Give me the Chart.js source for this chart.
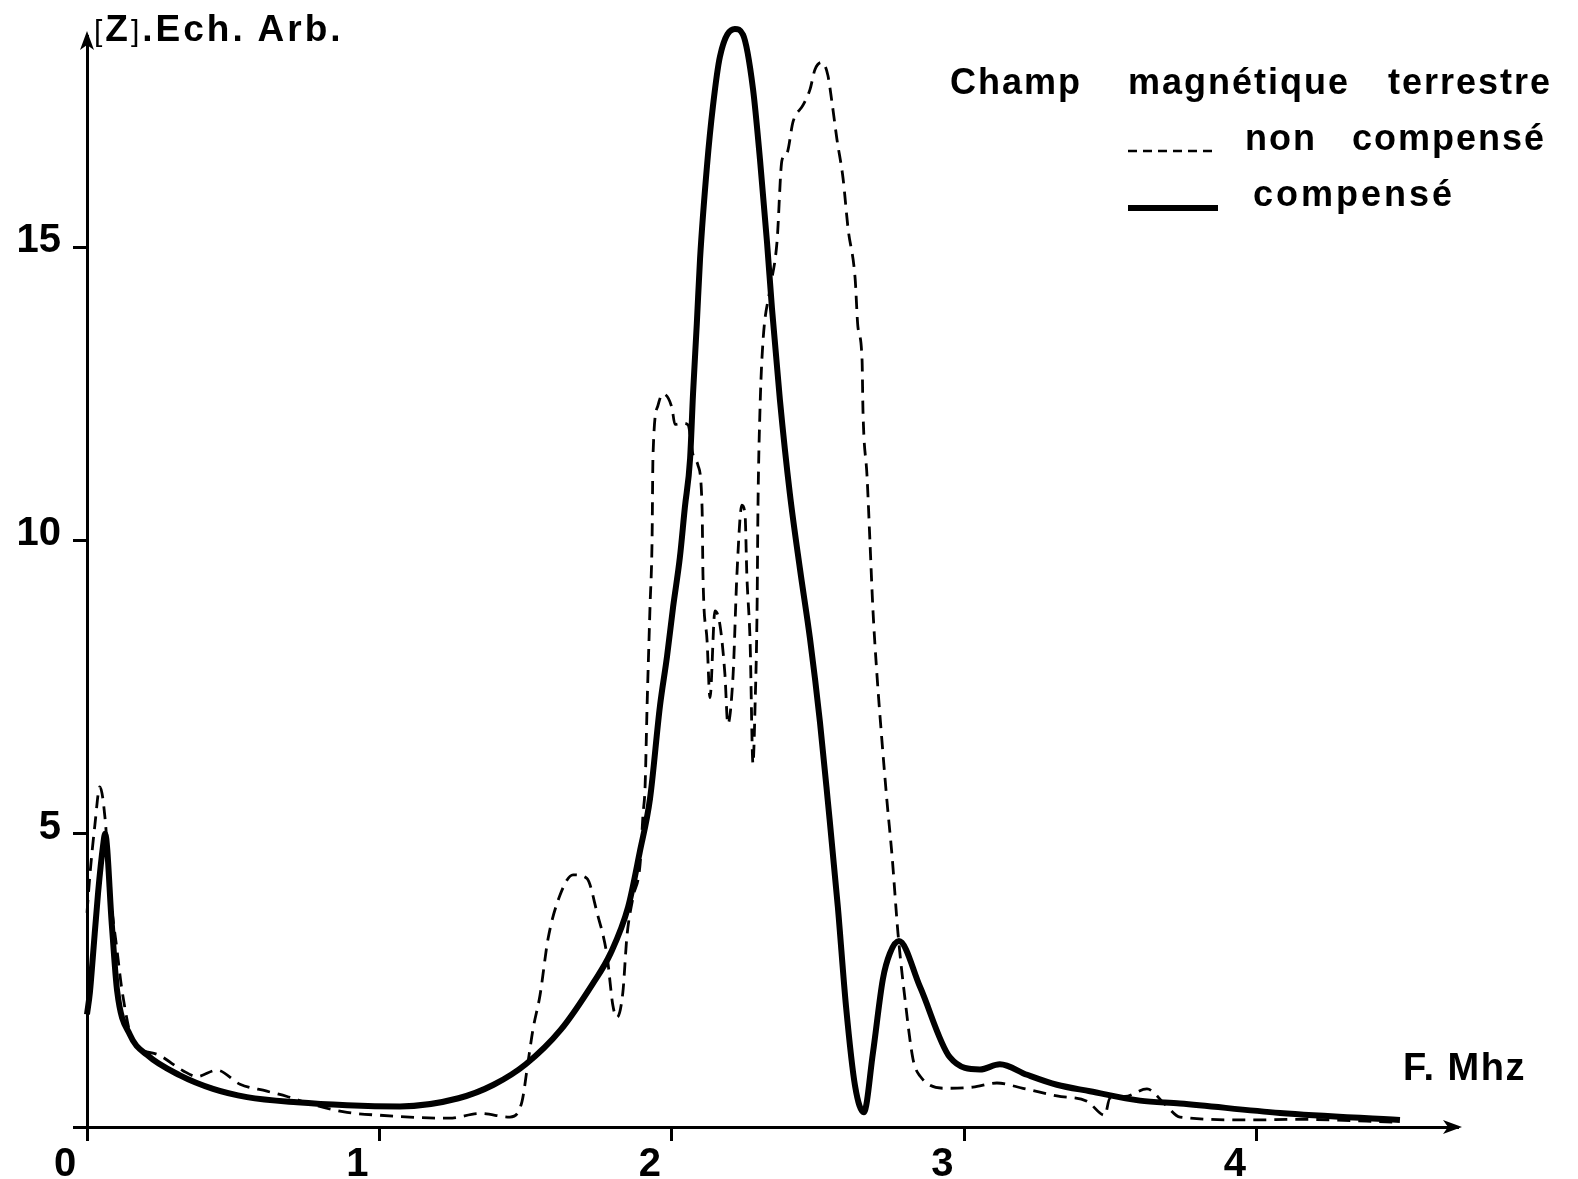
<!DOCTYPE html>
<html>
<head>
<meta charset="utf-8">
<title>Champ magnétique terrestre</title>
<script src="https://cdn.jsdelivr.net/npm/chart.js@4.4.1/dist/chart.umd.min.js"></script>
<style>
    body { margin: 0; background: #fff; }
    #wrap { position: relative; width: 1578px; height: 1179px; }
    .txt {
        position: absolute;
        font-family: 'Liberation Sans', Arial, sans-serif;
        font-weight: bold;
        color: #000;
        line-height: 1;
        white-space: nowrap;
    }
    .thin { font-weight: normal; font-size: 30px; }
</style>
</head>
<body>
<div id="wrap">
    <canvas id="chart" width="1578" height="1179"></canvas>
    <div class="txt" style="left:94px; top:10px; font-size:37px; letter-spacing:3px;"><span class="thin">[</span>Z<span class="thin">]</span>.Ech. Arb.</div>
    <div class="txt" style="left:1403px; top:1048px; font-size:38px; letter-spacing:1.5px;">F. Mhz</div>
    <div class="txt" style="left:950px; top:64px; font-size:36px; letter-spacing:2px;">Champ</div>
    <div class="txt" style="left:1128px; top:64px; font-size:36px; letter-spacing:2px;">magnétique</div>
    <div class="txt" style="left:1388px; top:64px; font-size:36px; letter-spacing:2px;">terrestre</div>
    <div class="txt" style="left:1245px; top:120px; font-size:36px; letter-spacing:2px;">non</div>
    <div class="txt" style="left:1352px; top:120px; font-size:36px; letter-spacing:2px;">compensé</div>
    <div class="txt" style="left:1253px; top:176px; font-size:36px; letter-spacing:3px;">compensé</div>
</div>
<script>
// Axis ticks
const xTickValues = [0, 1, 2, 3, 4];
const yTickValues = [0, 5, 10, 15];

// Champ compensé (trait plein)
const compFreq = [0.000, 0.010, 0.020, 0.038, 0.055, 0.062, 0.085, 0.103, 0.147, 0.205,
    0.318, 0.431, 0.547, 0.718, 0.889, 1.070, 1.270, 1.390, 1.500, 1.620,
    1.730, 1.790, 1.850, 1.890, 1.925, 1.959, 1.983, 2.004, 2.027, 2.044,
    2.062, 2.072, 2.085, 2.096, 2.120, 2.140, 2.164, 2.215, 2.243, 2.277,
    2.301, 2.325, 2.342, 2.369, 2.403, 2.438, 2.472, 2.506, 2.533, 2.567,
    2.595, 2.626, 2.656, 2.687, 2.721, 2.745, 2.776, 2.848, 2.950, 3.053,
    3.121, 3.214, 3.316, 3.429, 3.600, 3.737, 4.079, 4.489];
const compAmp = [1.92, 2.30, 2.90, 4.00, 4.80, 5.00, 3.44, 2.32, 1.57, 1.23,
    0.88, 0.65, 0.51, 0.42, 0.37, 0.35, 0.49, 0.72, 1.07, 1.66,
    2.45, 2.96, 3.75, 4.69, 5.60, 7.18, 8.02, 8.87, 9.71, 10.56,
    11.40, 12.50, 13.70, 14.80, 16.40, 17.40, 18.25, 18.72, 18.62, 17.70,
    16.49, 15.08, 13.95, 12.40, 10.80, 9.50, 8.32, 6.90, 5.55, 3.76,
    2.06, 0.70, 0.25, 1.26, 2.52, 2.96, 3.17, 2.39, 1.19, 0.98,
    1.07, 0.89, 0.72, 0.61, 0.45, 0.40, 0.24, 0.12];

// Champ non compensé (tirets)
const nonCompFreq = [0.000, 0.010, 0.027, 0.044, 0.062, 0.079, 0.103, 0.120, 0.157, 0.239,
    0.328, 0.376, 0.444, 0.523, 0.615, 0.684, 0.773, 0.889, 1.002, 1.238,
    1.344, 1.446, 1.487, 1.508, 1.525, 1.549, 1.576, 1.617, 1.662, 1.709,
    1.744, 1.778, 1.798, 1.812, 1.832, 1.846, 1.867, 1.891, 1.901, 1.908,
    1.915, 1.925, 1.932, 1.935, 1.952, 1.969, 2.000, 2.010, 2.038, 2.055,
    2.072, 2.089, 2.103, 2.106, 2.120, 2.130, 2.147, 2.164, 2.181, 2.191,
    2.209, 2.222, 2.239, 2.250, 2.256, 2.267, 2.277, 2.284, 2.291, 2.294,
    2.301, 2.311, 2.335, 2.359, 2.376, 2.393, 2.414, 2.448, 2.472, 2.489,
    2.513, 2.533, 2.547, 2.564, 2.585, 2.602, 2.626, 2.636, 2.650, 2.653,
    2.667, 2.677, 2.687, 2.701, 2.718, 2.735, 2.752, 2.773, 2.797, 2.824,
    2.848, 2.940, 3.029, 3.111, 3.200, 3.316, 3.419, 3.480, 3.497, 3.549,
    3.624, 3.685, 3.737, 3.976, 4.147, 4.489];
const nonCompAmp = [3.65, 4.30, 5.15, 5.80, 5.25, 4.02, 3.00, 2.32, 1.47, 1.24,
    0.96, 0.86, 0.97, 0.73, 0.61, 0.52, 0.38, 0.25, 0.20, 0.15,
    0.23, 0.17, 0.43, 1.11, 1.67, 2.25, 3.20, 3.95, 4.30, 4.24,
    3.65, 2.92, 2.07, 1.87, 2.29, 3.25, 3.92, 4.48, 5.33, 5.79,
    7.19, 8.88, 10.02, 11.42, 12.30, 12.50, 12.26, 11.98, 12.00, 11.97,
    11.46, 11.28, 10.55, 9.41, 8.29, 7.32, 8.80, 8.56, 7.72, 6.87,
    7.71, 9.41, 10.60, 10.43, 9.41, 8.29, 6.19, 7.16, 8.85, 10.55,
    12.24, 13.38, 14.28, 15.08, 16.48, 16.60, 17.14, 17.42, 17.69, 18.03,
    18.15, 17.93, 17.47, 16.84, 16.17, 15.32, 14.48, 13.63, 13.07, 12.22,
    11.09, 9.97, 8.83, 7.70, 6.58, 5.56, 4.65, 3.29, 2.17, 1.16,
    0.87, 0.66, 0.68, 0.75, 0.66, 0.53, 0.44, 0.20, 0.49, 0.52,
    0.65, 0.39, 0.17, 0.12, 0.13, 0.08];

function toPoints(xs, ys) {
    return xs.map((x, i) => ({x: x, y: ys[i]}));
}

const tickFont = {family: "'Liberation Sans Narrow', 'Liberation Sans', Arial, sans-serif", size: 40, weight: 'bold'};

// arrows on the axes + legend line samples
const decorations = {
    id: 'decorations',
    afterDraw(chart) {
        const ctx = chart.ctx;
        const a = chart.chartArea;
        ctx.save();
        ctx.fillStyle = '#000';
        ctx.beginPath();
        ctx.moveTo(a.left, a.top - 5);
        ctx.lineTo(a.left - 7, a.top + 14);
        ctx.lineTo(a.left, a.top + 9);
        ctx.lineTo(a.left + 7, a.top + 14);
        ctx.closePath();
        ctx.fill();
        ctx.beginPath();
        ctx.moveTo(a.right + 5, a.bottom);
        ctx.lineTo(a.right - 14, a.bottom - 7);
        ctx.lineTo(a.right - 9, a.bottom);
        ctx.lineTo(a.right - 14, a.bottom + 7);
        ctx.closePath();
        ctx.fill();

        ctx.strokeStyle = '#000';
        ctx.lineWidth = 2.5;
        ctx.setLineDash([9, 6]);
        ctx.beginPath();
        ctx.moveTo(1128, 151);
        ctx.lineTo(1214, 151);
        ctx.stroke();
        ctx.setLineDash([]);
        ctx.lineWidth = 6;
        ctx.beginPath();
        ctx.moveTo(1128, 208);
        ctx.lineTo(1218, 208);
        ctx.stroke();
        ctx.restore();
    }
};

new Chart(document.getElementById('chart'), {
    type: 'line',
    data: {
        datasets: [{
            label: 'compensé',
            data: toPoints(compFreq, compAmp),
            borderColor: '#000',
            borderWidth: 6,
            pointRadius: 0,
            cubicInterpolationMode: 'monotone',
            clip: false
        }, {
            label: 'non compensé',
            data: toPoints(nonCompFreq, nonCompAmp),
            borderColor: '#000',
            borderWidth: 2.8,
            borderDash: [13, 8],
            pointRadius: 0,
            cubicInterpolationMode: 'monotone',
            clip: false
        }]
    },
    options: {
        responsive: false,
        animation: false,
        devicePixelRatio: 1,
        layout: { padding: {top: 35, right: 121, left: 0, bottom: 0} },
        plugins: { legend: {display: false}, tooltip: {enabled: false} },
        scales: {
            x: {
                type: 'linear',
                min: 0,
                max: 4.684,
                afterBuildTicks: scale => { scale.ticks = xTickValues.map(v => ({value: v})); },
                afterFit: scale => { scale.height = 52; },
                grid: {drawOnChartArea: false, drawTicks: true, tickLength: 14, color: '#000', lineWidth: 3},
                border: {display: true, color: '#000', width: 3},
                ticks: {color: '#000', font: tickFont, padding: 0, labelOffset: -22, maxRotation: 0}
            },
            y: {
                type: 'linear',
                min: 0,
                max: 18.6,
                afterBuildTicks: scale => { scale.ticks = yTickValues.map(v => ({value: v})); },
                afterFit: scale => { scale.width = 87; },
                grid: {drawOnChartArea: false, drawTicks: true, tickLength: 14, color: '#000', lineWidth: 3},
                border: {display: true, color: '#000', width: 3},
                ticks: {color: '#000', font: tickFont, padding: 12, labelOffset: -6,
                    callback: v => v === 0 ? '' : String(v)}
            }
        }
    },
    plugins: [decorations]
});
</script>
</body>
</html>
